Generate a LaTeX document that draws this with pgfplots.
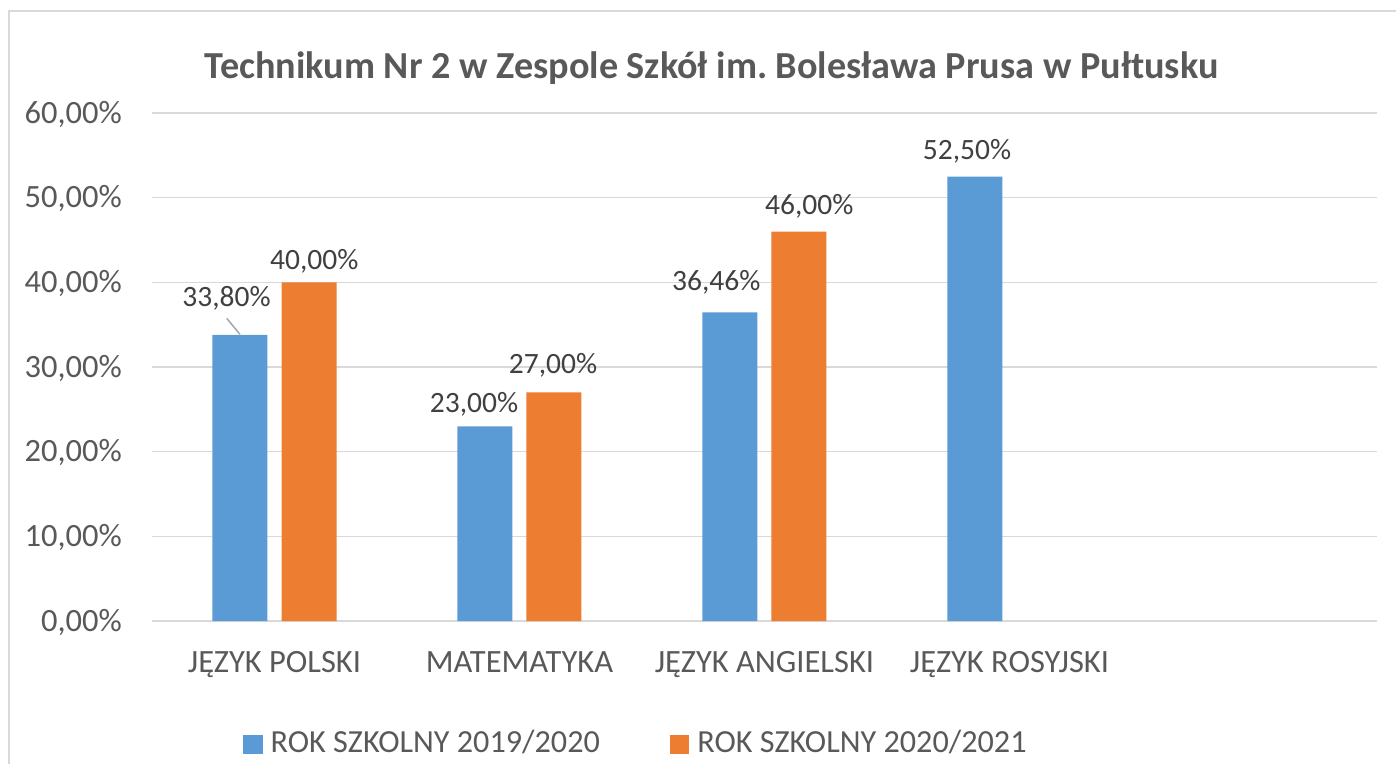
\documentclass[border=0pt]{standalone}
\usepackage{pgfplots}
\pgfplotsset{compat=1.18}
\usepackage{pgfplotstable}
\usepackage{fontspec}
\setmainfont{Carlito}
\definecolor{cblue}{HTML}{5B9BD5}
\definecolor{corange}{HTML}{ED7D31}
\definecolor{gridgray}{HTML}{D9D9D9}
\definecolor{textgray}{HTML}{595959}
\definecolor{labgray}{HTML}{404040}
\definecolor{leadgray}{HTML}{A6A6A6}

\pgfplotstableread{
x y dx dy
0 33.80 -13.5 28
1 23.00 -11 14
2 36.46 -13.7 22
3 52.50 -8 16.7
}\bluedata

\pgfplotstableread{
x y dx dy
0 40.00 5.3 13
1 27.00 -1 18.7
2 46.00 10.3 17
}\orangedata

\pgfplotsset{
  mylabels/.style={
    visualization depends on={\thisrow{dx} \as \dx},
    visualization depends on={\thisrow{dy} \as \dy},
    nodes near coords={\pgfmathprintnumber[fixed,fixed zerofill,precision=2,use comma,assume math mode=true]{\pgfplotspointmeta}\%},
    every node near coord/.append style={anchor=base, inner sep=0pt, xshift=\dx pt, yshift=\dy pt, text=labgray, font=\fontsize{29.5}{34}\selectfont},
  }
}

\begin{document}
\frenchspacing
\begin{tikzpicture}
\path[use as bounding box] (0,0) rectangle (1396pt,764pt);
\draw[color=gridgray, line width=2pt] (9pt,0pt) -- (9pt,753pt) -- (1396pt,753pt);
\node[anchor=base, text=textgray, inner sep=0pt, font=\bfseries\fontsize{38.2}{44}\selectfont] at (711.5pt,685pt) {Technikum Nr 2 w Zespole Szkół im. Bolesława Prusa w Pułtusku};
\begin{axis}[
  at={(152pt,143pt)}, anchor=south west,
  scale only axis, width=1225pt, height=508pt,
  ybar=14pt, bar width=55pt,
  xmin=-0.5, xmax=4.5, ymin=0, ymax=60,
  xtick={0,1,2,3},
  xticklabels={JĘZYK POLSKI, MATEMATYKA, JĘZYK ANGIELSKI, JĘZYK ROSYJSKI},
  ytick={0,10,20,30,40,50,60},
  yticklabel={\pgfmathprintnumber[fixed,fixed zerofill,precision=2,use comma,assume math mode=true]{\tick}\%},
  major tick length=0pt,
  axis line style={draw=none},
  ymajorgrids, grid style={color=gridgray, line width=1.6pt},
  yticklabel style={anchor=base east, inner sep=0pt, xshift=-30pt, yshift=-10.3pt, text=textgray, font=\fontsize{32.5}{38}\selectfont},
  xticklabel style={anchor=base, inner sep=0pt, yshift=-51pt, text=textgray, font=\fontsize{32.5}{38}\selectfont},
  clip=false,
  legend columns=2,
  legend style={at={(0.0743,-0.2391)}, anchor=west, draw=none, fill=none, inner sep=0pt, row sep=0pt,
    nodes={inner sep=0pt, text=textgray, font=\fontsize{32.2}{38}\selectfont},
    /tikz/every odd column/.append style={column sep=8pt},
    /tikz/every even column/.append style={column sep=70pt}},
  legend image code/.code={\draw[#1,/tikz/.cd,draw=none] (0pt,-12pt) rectangle (19.5pt,7.5pt);},
]
\addplot[fill=cblue, draw=none, mylabels] table[x=x, y=y] {\bluedata};
\addplot[fill=corange, draw=none, mylabels] table[x=x, y=y] {\orangedata};
\legend{ROK SZKOLNY 2019/2020, ROK SZKOLNY 2020/2021}
\draw[leadgray, line width=1.5pt] (axis cs:-0.195,35.75) -- (axis cs:-0.141,33.86);
\end{axis}
\end{tikzpicture}
\end{document}
